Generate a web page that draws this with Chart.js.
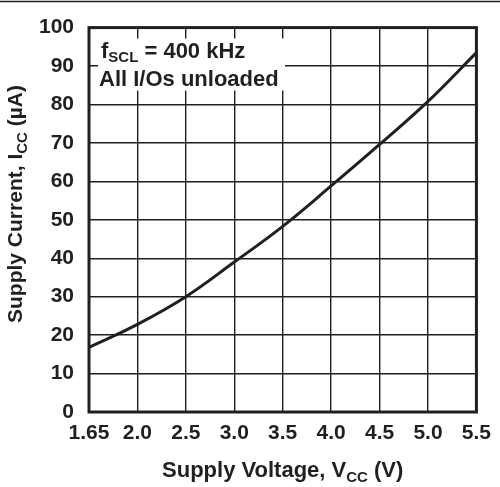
<!DOCTYPE html>
<html>
<head>
<meta charset="utf-8">
<script src="https://cdn.jsdelivr.net/npm/chart.js@4"></script>
<style>
  body { margin: 0; background: #fff; }
  canvas { display: block; }
</style>
</head>
<body>
<canvas id="supplyCurrentChart" width="500" height="487"></canvas>
<script>
// supply voltage grid positions (V) and supply current read at each (uA)
var voltageTicks = ['1.65', '2.0', '2.5', '3.0', '3.5', '4.0', '4.5', '5.0', '5.5'];
var supplyCurrent = [16.8, 22.8, 30.0, 39.0, 48.3, 58.8, 69.6, 80.8, 93.5];
var currentMin = 0;
var currentMax = 100;
var currentStep = 10;

var INK = '#231f20';
var FONT = '"Liberation Sans", Arial, Helvetica, sans-serif';

// draws text pieces, some of them as subscripts, starting at x
function drawParts(ctx, parts, x, y, size) {
    'use strict';
    var subSize = Math.round(size * 0.7);
    var i;
    for (i = 0; i < parts.length; i++) {
        var p = parts[i];
        ctx.font = 'bold ' + (p.sub ? subSize : size) + 'px ' + FONT;
        ctx.fillText(p.t, x, p.sub ? y + size * 0.22 : y);
        x += ctx.measureText(p.t).width;
    }
}

function partsWidth(ctx, parts, size) {
    'use strict';
    var subSize = Math.round(size * 0.7);
    var w = 0;
    var i;
    for (i = 0; i < parts.length; i++) {
        ctx.font = 'bold ' + (parts[i].sub ? subSize : size) + 'px ' + FONT;
        w += ctx.measureText(parts[i].t).width;
    }
    return w;
}

var decorations = {
    id: 'decorations',
    beforeDraw: function (chart) {
        var ctx = chart.ctx;
        ctx.save();
        ctx.fillStyle = '#fff';
        ctx.fillRect(0, 0, chart.width, chart.height);
        ctx.strokeStyle = INK;
        ctx.lineWidth = 1.5;
        ctx.beginPath();
        ctx.moveTo(0, 1.5);
        ctx.lineTo(chart.width, 1.5);
        ctx.stroke();
        ctx.restore();
    },
    beforeDatasetsDraw: function (chart) {
        var ctx = chart.ctx;
        var a = chart.chartArea;
        ctx.save();
        ctx.fillStyle = '#fff';
        ctx.fillRect(a.left + 9, a.top + 11, 187, 52);
        ctx.fillStyle = INK;
        ctx.textBaseline = 'alphabetic';
        ctx.textAlign = 'left';
        drawParts(ctx, [{t: 'f'}, {t: 'SCL', sub: true}, {t: ' = 400 kHz'}], a.left + 12, a.top + 30, 22);
        drawParts(ctx, [{t: 'All I/Os unloaded'}], a.left + 10, a.top + 58, 22);
        ctx.restore();
    },
    afterDatasetsDraw: function (chart) {
        var ctx = chart.ctx;
        var a = chart.chartArea;
        ctx.save();
        ctx.strokeStyle = INK;
        ctx.lineWidth = 3;
        ctx.strokeRect(a.left, a.top, a.right - a.left, a.bottom - a.top);

        ctx.fillStyle = INK;
        ctx.textAlign = 'left';
        ctx.textBaseline = 'alphabetic';
        var xTitle = [{t: 'Supply Voltage, V'}, {t: 'CC', sub: true}, {t: ' (V)'}];
        var w = partsWidth(ctx, xTitle, 22);
        drawParts(ctx, xTitle, (a.left + a.right) / 2 - w / 2, 477, 22);

        var yTitle = [{t: 'Supply Current, I'}, {t: 'CC', sub: true}, {t: ' (\u00b5A)'}];
        var wy = partsWidth(ctx, yTitle, 21);
        ctx.translate(22, 204);
        ctx.rotate(-Math.PI / 2);
        drawParts(ctx, yTitle, -wy / 2, 0, 21);
        ctx.restore();
    }
};

function plot_supply_current(ticks, current) {
    'use strict';

    var ctx = document.getElementById('supplyCurrentChart');

    var chart = new Chart(ctx, {
        type: 'line',
        data: {
            labels: ticks,
            datasets: [
                {
                    label: 'Supply current',
                    data: current,
                    borderColor: INK,
                    borderWidth: 3,
                    pointRadius: 0,
                    fill: false,
                    tension: 0.4
                }
            ]
        },
        options: {
            responsive: false,
            animation: false,
            layout: {
                padding: {top: 17, right: 17, left: 0, bottom: 0}
            },
            plugins: {
                legend: {display: false},
                tooltip: {enabled: false},
                title: {display: false}
            },
            scales: {
                x: {
                    type: 'category',
                    offset: false,
                    border: {display: false},
                    grid: {color: INK, lineWidth: 1.4, drawTicks: false},
                    ticks: {
                        color: INK,
                        font: {family: FONT, size: 21, weight: 'bold'},
                        padding: 9,
                        maxRotation: 0,
                        autoSkip: false
                    },
                    afterFit: function (scale) { scale.height = 75; }
                },
                y: {
                    min: currentMin,
                    max: currentMax,
                    border: {display: false},
                    grid: {color: INK, lineWidth: 1.4, drawTicks: false},
                    ticks: {
                        stepSize: currentStep,
                        color: INK,
                        font: {family: FONT, size: 21, weight: 'bold'},
                        padding: 15
                    },
                    afterFit: function (scale) { scale.width = 89; }
                }
            }
        },
        plugins: [decorations]
    });
    return chart;
}

plot_supply_current(voltageTicks, supplyCurrent);
</script>
</body>
</html>
